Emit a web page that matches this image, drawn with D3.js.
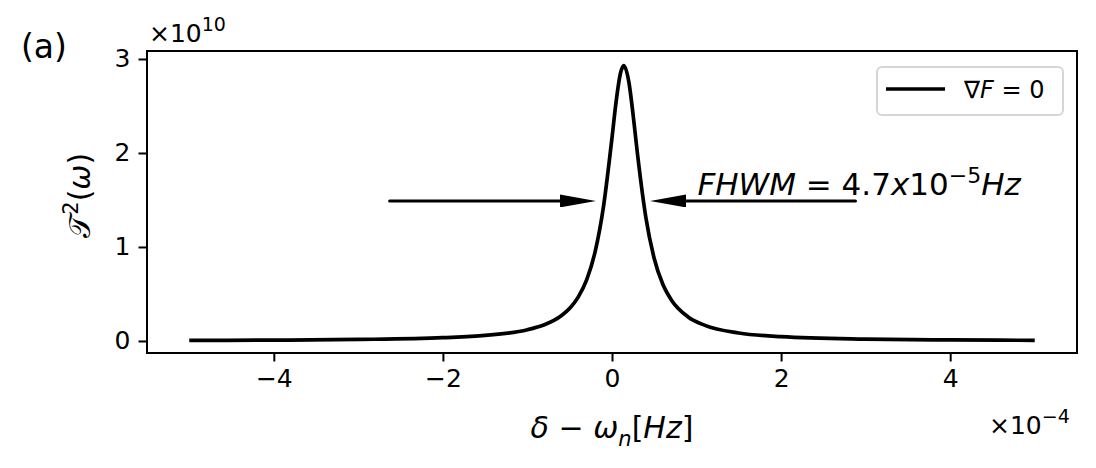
<!DOCTYPE html>
<html>
<head>
<meta charset="utf-8">
<script src="https://cdn.jsdelivr.net/npm/d3@7"></script>
<style>
  body { margin: 0; background: #fff; }
  svg text { font-family: "DejaVu Sans", sans-serif; fill: #000; }
</style>
</head>
<body>
<div id="chart"></div>
<script>
// detuning (x10^-4 Hz)
var detuning = [-5, -4, -3, -2, -1.5, -1, -0.8, -0.6, -0.5, -0.4, -0.3, -0.2, -0.1, 0,
                0.05, 0.1, 0.14, 0.2, 0.25, 0.3, 0.4, 0.5, 0.6, 0.7, 0.9, 1.1, 1.5, 2, 3, 4, 5];
// transmission squared (x10^10)
var trans = [0.006, 0.009, 0.016, 0.035, 0.059, 0.12, 0.172, 0.268, 0.348, 0.467, 0.65, 0.948, 1.434, 2.162,
             2.555, 2.848, 2.93, 2.751, 2.403, 2.001, 1.317, 0.875, 0.606, 0.439, 0.256, 0.166, 0.085, 0.046, 0.02, 0.011, 0.007];
var xTicks = [-4, -2, 0, 2, 4];
var yTicks = [0, 1, 2, 3];
// FWHM arrows: [from, to] in data coords
var arrowLeft = [[-2.63, 1.49], [-0.19, 1.49]];
var arrowRight = [[2.88, 1.49], [0.45, 1.49]];

var width = 1096, height = 468;
var margin = {left: 147, right: 19, top: 51, bottom: 115};

var svg = d3.select('#chart').append('svg')
  .attr('width', width)
  .attr('height', height);

var x = d3.scaleLinear().domain([-5.5, 5.5]).range([margin.left, width - margin.right]);
var y = d3.scaleLinear().domain([-0.128, 3.085]).range([height - margin.bottom, margin.top]);

// axes
var xAxis = d3.axisBottom(x).tickValues(xTicks).tickSize(8.5).tickPadding(8)
  .tickFormat(function(d) { return d < 0 ? '\u2212' + (-d) : d; });
var yAxis = d3.axisLeft(y).tickValues(yTicks).tickSize(8.5).tickPadding(8)
  .tickFormat(d3.format('d'));

var gx = svg.append('g').attr('transform', 'translate(0,' + (height - margin.bottom) + ')').call(xAxis);
var gy = svg.append('g').attr('transform', 'translate(' + margin.left + ',0)').call(yAxis);
[gx, gy].forEach(function(g) {
  g.select('.domain').remove();
  g.selectAll('line').attr('stroke', '#000').attr('stroke-width', 2);
  g.selectAll('text').style('font-size', '25px').style('font-family', 'DejaVu Sans');
});

// frame
svg.append('rect')
  .attr('x', margin.left).attr('y', margin.top)
  .attr('width', width - margin.left - margin.right)
  .attr('height', height - margin.top - margin.bottom)
  .attr('fill', 'none').attr('stroke', '#000').attr('stroke-width', 2);

// curve
var pts = detuning.map(function(d, i) { return [d, trans[i]]; });
var line = d3.line()
  .x(function(d) { return x(d[0]); })
  .y(function(d) { return y(d[1]); })
  .curve(d3.curveMonotoneX);

svg.append('path')
  .datum(pts)
  .attr('d', line)
  .attr('fill', 'none')
  .attr('stroke', '#000')
  .attr('stroke-width', 3.7)
  .attr('stroke-linejoin', 'round');

// arrows
svg.append('defs').append('marker')
  .attr('id', 'head')
  .attr('viewBox', '0 0 36 13')
  .attr('refX', 36).attr('refY', 6.5)
  .attr('markerWidth', 36).attr('markerHeight', 13)
  .attr('markerUnits', 'userSpaceOnUse')
  .attr('orient', 'auto')
  .append('path').attr('d', 'M0,0 L36,6.5 L0,13 Z').attr('fill', '#000');

[arrowLeft, arrowRight].forEach(function(a) {
  svg.append('line')
    .attr('x1', x(a[0][0])).attr('y1', y(a[0][1]))
    .attr('x2', x(a[1][0]) - (a[1][0] < a[0][0] ? -20 : 20)).attr('y2', y(a[1][1]))
    .attr('stroke', '#000').attr('stroke-width', 3)
    .attr('stroke-linecap', 'round');
  svg.append('line')
    .attr('x1', x(a[0][0])).attr('y1', y(a[0][1]))
    .attr('x2', x(a[1][0])).attr('y2', y(a[1][1]))
    .attr('stroke', 'none')
    .attr('marker-end', 'url(#head)');
});

// annotation
var ann = svg.append('text')
  .attr('x', x(1.01)).attr('y', y(1.55))
  .style('font-size', '31px');
ann.append('tspan').style('font-style', 'italic').text('FHWM');
ann.append('tspan').text(' = 4.7');
ann.append('tspan').style('font-style', 'italic').text('x');
ann.append('tspan').text('10');
ann.append('tspan').attr('dy', -12).style('font-size', '22px').text('\u22125');
ann.append('tspan').attr('dy', 12).style('font-style', 'italic').text('Hz');

// legend
var lg = svg.append('g');
lg.append('rect')
  .attr('x', 877).attr('y', 67).attr('width', 186).attr('height', 48)
  .attr('rx', 5).attr('fill', '#fff').attr('stroke', '#d6d6d6').attr('stroke-width', 2);
lg.append('line')
  .attr('x1', 886).attr('x2', 945).attr('y1', 89).attr('y2', 89)
  .attr('stroke', '#000').attr('stroke-width', 3.7);
var lt = lg.append('text').attr('x', 964).attr('y', 98).style('font-size', '24px');
lt.append('tspan').text('\u2207');
lt.append('tspan').style('font-style', 'italic').text('F');
lt.append('tspan').text(' = 0');

// offset labels
var oy = svg.append('text').attr('x', 149).attr('y', 42).style('font-size', '25px');
oy.append('tspan').text('\u00d710');
oy.append('tspan').attr('dy', -11).style('font-size', '19px').text('10');

var ox = svg.append('text').attr('x', 989).attr('y', 434).style('font-size', '25px');
ox.append('tspan').text('\u00d710');
ox.append('tspan').attr('dy', -11).style('font-size', '19px').text('\u22124');

// axis labels
var xl = svg.append('text')
  .attr('x', x(0)).attr('y', 438)
  .attr('text-anchor', 'middle')
  .style('font-size', '30px');
xl.append('tspan').style('font-style', 'italic').text('\u03b4');
xl.append('tspan').text(' \u2212 ');
xl.append('tspan').style('font-style', 'italic').text('\u03c9');
xl.append('tspan').attr('dy', 8).style('font-size', '21px').style('font-style', 'italic').text('n');
xl.append('tspan').attr('dy', -8).text('[');
xl.append('tspan').style('font-style', 'italic').text('Hz');
xl.append('tspan').text(']');

var yl = svg.append('text')
  .attr('transform', 'translate(90,' + y(1.55) + ') rotate(-90)')
  .attr('text-anchor', 'middle')
  .style('font-size', '30px');
yl.append('tspan').text('\ud835\udcaf');
yl.append('tspan').attr('dy', -12).style('font-size', '21px').text('2');
yl.append('tspan').attr('dy', 12).text('(');
yl.append('tspan').style('font-style', 'italic').text('\u03c9');
yl.append('tspan').text(')');

// panel tag
svg.append('text').attr('x', 21).attr('y', 58).style('font-size', '33px').text('(a)');
</script>
</body>
</html>
